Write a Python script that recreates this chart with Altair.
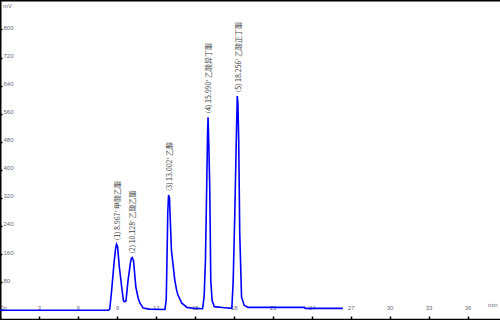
import altair as alt
import pandas as pd

# chromatogram trace (retention time in min, signal in mV)
times = [0, 8.35, 8.45, 8.6, 8.78, 8.9, 8.97, 9.05, 9.19, 9.37, 9.5, 9.58, 9.7,
         9.86, 10.04, 10.12, 10.18, 10.28, 10.46, 10.64, 10.78, 11.03, 11.5,
         12.7, 12.8, 12.86, 12.92, 12.98, 13.05, 13.2, 13.46, 13.6, 13.7, 14.0,
         14.4, 15.0, 15.6, 15.72, 15.82, 15.92, 15.98, 16.02, 16.08, 16.15,
         16.23, 16.33, 16.5, 17.3, 17.85, 17.95, 18.08, 18.21, 18.27, 18.32,
         18.38, 18.46, 18.6, 18.8, 19.1, 23.45, 23.5, 26.4]
signal = [0, 0, 3, 57, 134, 175, 188, 182, 123, 66, 28, 24, 26,
          85, 134, 148, 150, 142, 66, 34, 20, 6, 3,
          2, 30, 150, 280, 328, 320, 171, 85, 57, 43, 20,
          8, 5, 4, 40, 142, 362, 500, 550, 470, 350,
          85, 28, 10, 7, 5, 77, 276, 513, 610, 590,
          484, 219, 37, 14, 8, 8, 5, 5]

# peak annotations
peak_rt = [8.967, 10.128, 13.002, 15.990, 18.256]
peak_mv = [188, 150, 328, 550, 610]
peak_label = ["(1) 8.967' 甲酸乙酯", "(2) 10.128' 乙酸乙酯", "(3) 13.002' 乙醇",
              "(4) 15.990' 乙酸异丁酯", "(5) 18.256' 乙酸正丁酯"]

x_ticks = [0, 3, 6, 9, 12, 15, 18, 21, 24, 27, 30, 33, 36]
y_ticks = [0, 80, 160, 240, 320, 400, 480, 560, 640, 720, 800]

trace = pd.DataFrame({"t": times, "mv": signal})
peaks = pd.DataFrame({"t": peak_rt, "mv": peak_mv, "label": peak_label})
one = pd.DataFrame({"a": [0]})

xscale = alt.Scale(domain=[0, 38.5], nice=False, zero=False)
yscale = alt.Scale(domain=[-28, 884], nice=False, zero=False)

tick_col = "#6a6a7a"

xaxis = alt.Axis(
    orient="top", offset=-319, values=x_ticks, tickSize=3, tickWidth=1.5,
    tickColor="black", domainColor="black", domainWidth=1.5,
    labelPadding=6, labelFontSize=6, labelFont="Liberation Sans",
    labelColor=tick_col, labelFlush=True, labelOverlap=False,
    grid=False, title=None)
yaxis = alt.Axis(
    orient="right", offset=-500, values=y_ticks, tickSize=2, tickWidth=1.5,
    tickColor="black", domainColor="black", domainWidth=2,
    labelPadding=1, labelAlign="left", labelBaseline="alphabetic",
    labelFontSize=6, labelFont="Liberation Sans", labelColor=tick_col,
    labelFlush=False, labelOverlap=False, grid=False, title=None)

line = alt.Chart(trace).mark_line(color="#0000ff", strokeWidth=1.6).encode(
    x=alt.X("t:Q", scale=xscale, axis=xaxis),
    y=alt.Y("mv:Q", scale=yscale, axis=yaxis),
)

labels = alt.Chart(peaks).mark_text(
    angle=270, align="left", baseline="middle", dx=4, dy=1.5,
    fontSize=7, font="Noto Sans CJK SC", color="#444444"
).encode(
    x=alt.X("t:Q", scale=xscale, axis=xaxis),
    y=alt.Y("mv:Q", scale=yscale, axis=yaxis),
    text="label:N",
)

top_rule = alt.Chart(one).mark_rule(color="black", strokeWidth=1.5).encode(
    x=alt.value(0), x2=alt.value(500), y=alt.value(0.75))

mv_text = alt.Chart(one).mark_text(
    align="left", baseline="middle", fontSize=6, font="Liberation Sans",
    color=tick_col).encode(x=alt.value(3), y=alt.value(6), text=alt.value("mV"))
min_text = alt.Chart(one).mark_text(
    align="left", baseline="middle", fontSize=6, font="Liberation Sans",
    color=tick_col).encode(x=alt.value(488), y=alt.value(305),
                           text=alt.value("min"))

chart = alt.layer(line, labels, top_rule, mv_text, min_text).properties(
    width=500, height=320, padding=0,
    autosize=alt.AutoSizeParams(type="none"),
).configure_view(stroke=None).configure(background="white")

chart.save("out.html", embed_options={"renderer": "svg", "actions": False})
